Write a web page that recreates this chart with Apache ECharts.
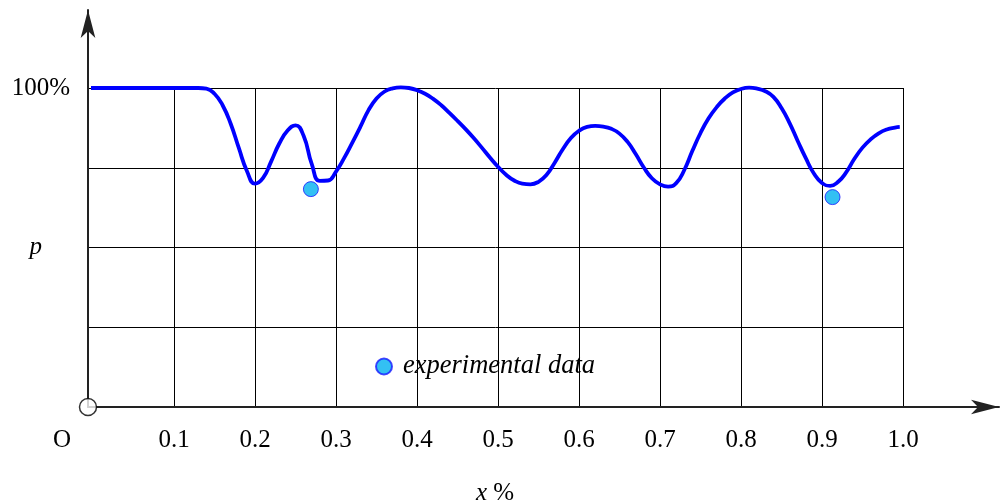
<!DOCTYPE html>
<html>
<head>
<meta charset="utf-8">
<title>p vs x</title>
<script src="https://cdn.jsdelivr.net/npm/echarts@6/dist/echarts.min.js"></script>
<style>
html,body{margin:0;padding:0;background:#fff;}
#main{width:1000px;height:503px;}
</style>
</head>
<body>
<div id="main"></div>
<script>
// curve (x as fraction, p in %)
// the flat part starts right at the drawn y axis, a hair left of x=0
var curveX = [-0.006, 0.12, 0.13, 0.14, 0.15, 0.16, 0.17, 0.18, 0.19, 0.20,
    0.21, 0.22, 0.23, 0.24, 0.25, 0.26, 0.27, 0.28, 0.29, 0.30,
    0.31, 0.32, 0.33, 0.34, 0.35, 0.36, 0.37, 0.38, 0.39, 0.40,
    0.41, 0.42, 0.43, 0.44, 0.45, 0.46, 0.47, 0.48, 0.49, 0.50,
    0.51, 0.52, 0.53, 0.54, 0.55, 0.56, 0.57, 0.58, 0.59, 0.60,
    0.61, 0.62, 0.63, 0.64, 0.65, 0.66, 0.67, 0.68, 0.69, 0.70,
    0.71, 0.72, 0.73, 0.74, 0.75, 0.76, 0.77, 0.78, 0.79, 0.80,
    0.81, 0.82, 0.83, 0.84, 0.85, 0.86, 0.87, 0.88, 0.89, 0.90,
    0.91, 0.92, 0.93, 0.94, 0.95, 0.96, 0.97, 0.98, 0.99, 0.996];
var curveY = [100, 100, 100, 99.8, 98.2, 94.6, 88.8, 81.2, 74.0, 70.0,
    71.8, 77.0, 82.6, 86.6, 88.3, 85.0, 76.2, 70.9, 71.0, 73.8,
    78.0, 82.8, 87.8, 93.0, 96.7, 98.9, 99.9, 100.2, 100.0, 99.3,
    98.2, 96.6, 94.6, 92.2, 89.7, 87.1, 84.3, 81.3, 78.2, 75.3,
    72.8, 71.0, 70.0, 69.8, 70.6, 72.8, 76.6, 80.8, 84.3, 86.6,
    87.8, 88.1, 87.9, 87.2, 85.7, 83.1, 79.3, 75.1, 71.7, 69.8,
    69.1, 70.2, 74.3, 80.3, 85.9, 90.5, 94.0, 96.7, 98.6, 99.7,
    100.1, 99.8, 99.0, 97.2, 93.7, 89.0, 83.4, 78.0, 73.2, 70.2,
    69.3, 70.6, 73.6, 77.8, 81.3, 83.9, 85.8, 87.0, 87.6, 87.8];
// experimental points
var expX = [0.269, 0.913];
var expY = [68.3, 65.8];
var origin = [0, 0];
var xTicks = [0.1, 0.2, 0.3, 0.4, 0.5, 0.6, 0.7, 0.8, 0.9, 1.0];

var curve = curveX.map(function (x, i) { return [x, curveY[i]]; });
var exp = expX.map(function (x, i) { return [x, expY[i]]; });

var serif = 'Liberation Serif';
var chart = echarts.init(document.getElementById('main'));

var arrowAxis = {
    type: 'value', min: 0, max: 1,
    axisLine: { show: true, symbol: ['none', 'arrow'], symbolSize: [11, 28], lineStyle: { color: '#222', width: 2 } },
    axisTick: { show: false }, axisLabel: { show: false }, splitLine: { show: false }
};
var hiddenAxis = {
    type: 'value', min: 0, max: 1, show: false, splitLine: { show: false }
};

var option = {
    backgroundColor: '#fff',
    animation: false,
    title: {
        text: '{i|x} %',
        left: 476,
        top: 481,
        padding: 0,
        textStyle: {
            fontFamily: serif, fontSize: 25, fontWeight: 'normal', color: '#000',
            rich: { i: { fontFamily: serif, fontSize: 25, fontStyle: 'italic', color: '#000' } }
        }
    },
    legend: {
        data: ['experimental data'],
        left: 375,
        top: 353,
        padding: 0,
        icon: 'circle',
        itemWidth: 16,
        itemHeight: 16,
        itemGap: 4,
        textStyle: { fontFamily: serif, fontSize: 26.5, fontStyle: 'italic', color: '#000', padding: [0, 0, 0, 6] }
    },
    grid: [
        // data + vertical lines
        { left: 93, right: 97, top: 88, bottom: 96 },
        // arrow axes
        { left: 88, right: 1, top: 10, bottom: 96 },
        // horizontal lines + p labels
        { left: 88, right: 97, top: 88, bottom: 96 }
    ],
    xAxis: [
        {
            type: 'value', gridIndex: 0, min: 0, max: 1, interval: 0.1,
            axisLine: { show: false },
            axisTick: { show: false },
            axisLabel: {
                margin: 21,
                fontFamily: serif, fontSize: 25, color: '#000',
                formatter: function (v) {
                    if (Math.abs(v) < 1e-9) return '{o|O}';
                    for (var i = 0; i < xTicks.length; i++) {
                        if (Math.abs(v - xTicks[i]) < 1e-9) return xTicks[i].toFixed(1);
                    }
                    return '';
                },
                rich: { o: { fontFamily: serif, fontSize: 25, color: '#000', padding: [0, 62, 0, 0] } }
            },
            splitLine: { show: true, showMinLine: false, lineStyle: { color: '#000', width: 1 } }
        },
        Object.assign({ gridIndex: 1 }, arrowAxis),
        Object.assign({ gridIndex: 2 }, hiddenAxis)
    ],
    yAxis: [
        Object.assign({ gridIndex: 0 }, hiddenAxis, { max: 100 }),
        Object.assign({ gridIndex: 1 }, arrowAxis),
        {
            type: 'value', gridIndex: 2, min: 0, max: 100, interval: 25,
            axisLine: { show: false },
            axisTick: { show: false },
            axisLabel: {
                margin: 18,
                fontFamily: serif, fontSize: 25, color: '#000',
                formatter: function (v) {
                    if (v === 100) return '100%';
                    if (v === 50) return '{p|p}';
                    return '';
                },
                rich: { p: { fontFamily: serif, fontSize: 25, fontStyle: 'italic', color: '#000', padding: [0, 28, 0, 0] } }
            },
            splitLine: { show: true, lineStyle: { color: '#000', width: 1 } }
        }
    ],
    series: [
        {
            name: 'p',
            type: 'line',
            xAxisIndex: 0, yAxisIndex: 0,
            data: curve,
            smooth: 0.5,
            showSymbol: false,
            clip: false,
            lineStyle: { color: '#0000ff', width: 3.8 },
            z: 3
        },
        {
            name: 'experimental data',
            type: 'scatter',
            xAxisIndex: 0, yAxisIndex: 0,
            data: exp,
            symbol: 'circle',
            symbolSize: 15,
            itemStyle: { color: '#00b0f0', borderColor: '#1a1aff', borderWidth: 1 },
            z: 4
        },
        {
            name: 'origin',
            type: 'scatter',
            xAxisIndex: 2, yAxisIndex: 2,
            data: [origin],
            clip: false,
            symbol: 'circle',
            symbolSize: 17,
            itemStyle: { color: '#fff', borderColor: '#000', borderWidth: 1.5 },
            z: 10
        }
    ]
};
chart.setOption(option);
</script>
</body>
</html>
